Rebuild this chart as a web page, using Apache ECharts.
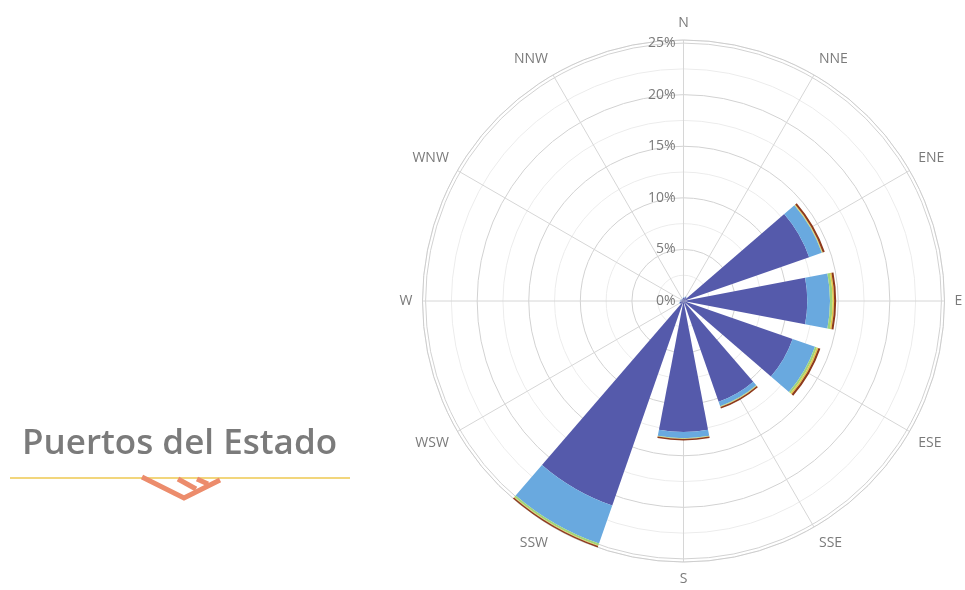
<!DOCTYPE html>
<html>
<head>
<meta charset="utf-8">
<script src="https://cdn.jsdelivr.net/npm/echarts@6/dist/echarts.min.js"></script>
<style>
  html, body { margin: 0; padding: 0; background: #fff; }
  #chart { width: 965px; height: 590px; }
</style>
</head>
<body>
<div id="chart"></div>
<script>
// wind directions, clockwise from north
const directions = ['N', 'NNE', 'ENE', 'E', 'ESE', 'SSE', 'S', 'SSW', 'WSW', 'W', 'WNW', 'NNW'];

// frequency (%) per speed class, stacked outward
const calmClass   = [0.3, 0.4, 12.9, 12.0, 11.2, 10.35, 12.7, 21.0, 0.4, 0.3, 0.2, 0.2];
const lightClass  = [0.05, 0.05, 1.3, 2.2, 2.3, 0.45, 0.6, 3.9, 0.05, 0.05, 0.05, 0.05];
const greenClass  = [0, 0, 0.05, 0.25, 0.2, 0.05, 0.05, 0.2, 0, 0, 0, 0];
const yellowClass = [0, 0, 0.05, 0.15, 0.15, 0.03, 0.03, 0.05, 0, 0, 0, 0];
const brownClass  = [0, 0, 0.2, 0.2, 0.2, 0.15, 0.15, 0.15, 0, 0, 0, 0];

const radiusMax = 25.3;
const radiusStep = 2.5;

const classColors = ['#555aab', '#69a9df', '#9fd47a', '#e3c84a', '#8e3a1c'];
const classes = [calmClass, lightClass, greenClass, yellowClass, brownClass];

const center = [683.5, 301];
const labelFont = {color: '#7a7a7a', fontSize: 14, fontFamily: 'Open Sans'};

const chart = echarts.init(document.getElementById('chart'), null, {renderer: 'canvas'});

chart.setOption({
    animation: false,
    polar: [
        {center: center, radius: 261},
        {center: center, radius: 261}
    ],
    angleAxis: [
        {
            // bars + direction labels, bands centred on each direction
            polarIndex: 0,
            type: 'category',
            data: directions,
            startAngle: 105,
            clockwise: true,
            boundaryGap: true,
            axisLine: {show: true, lineStyle: {color: '#cdcdcd', width: 1}},
            axisTick: {show: false},
            splitLine: {show: false},
            axisLabel: {...labelFont, margin: 10}
        },
        {
            // radial grid lines through each direction
            polarIndex: 1,
            type: 'value',
            min: 0,
            max: 360,
            interval: 30,
            startAngle: 90,
            clockwise: true,
            axisLine: {show: false},
            axisTick: {show: false},
            axisLabel: {show: false},
            splitLine: {show: true, lineStyle: {color: '#d6d6d6', width: 1}}
        }
    ],
    radiusAxis: [
        {
            polarIndex: 0,
            type: 'value',
            min: 0,
            max: radiusMax,
            show: false
        },
        {
            polarIndex: 1,
            type: 'value',
            min: 0,
            max: radiusMax,
            interval: radiusStep,
            axisLine: {show: false},
            axisTick: {show: false},
            splitLine: {show: true, lineStyle: {color: ['#d2d2d2', '#ececec'], width: 1}},
            axisLabel: {
                ...labelFont,
                formatter: (v) => (v % 5 === 0 ? v + '%' : '')
            }
        }
    ],
    series: classes.map((vals, i) => ({
        type: 'bar',
        coordinateSystem: 'polar',
        polarIndex: 0,
        stack: 'rose',
        data: vals,
        barCategoryGap: '28%',
        itemStyle: {color: classColors[i]},
        silent: true
    })),
    graphic: [
        {
            type: 'text',
            left: 22,
            top: 427,
            style: {
                text: 'Puertos del Estado',
                fill: '#7b7b7b',
                font: '600 35px "Open Sans"'
            }
        },
        {
            type: 'line',
            shape: {x1: 10, y1: 478, x2: 350, y2: 478},
            style: {stroke: '#f2d67c', lineWidth: 2}
        },
        {
            type: 'polyline',
            shape: {points: [[142, 477], [184, 498], [220, 480]]},
            style: {stroke: '#ec8c6c', lineWidth: 5, fill: null, lineJoin: 'miter'}
        },
        {
            type: 'polyline',
            shape: {points: [[178, 479], [196, 489]]},
            style: {stroke: '#ec8c6c', lineWidth: 5, fill: null}
        },
        {
            type: 'polyline',
            shape: {points: [[197, 479], [208, 484]]},
            style: {stroke: '#ec8c6c', lineWidth: 5, fill: null}
        }
    ]
});
</script>
</body>
</html>
